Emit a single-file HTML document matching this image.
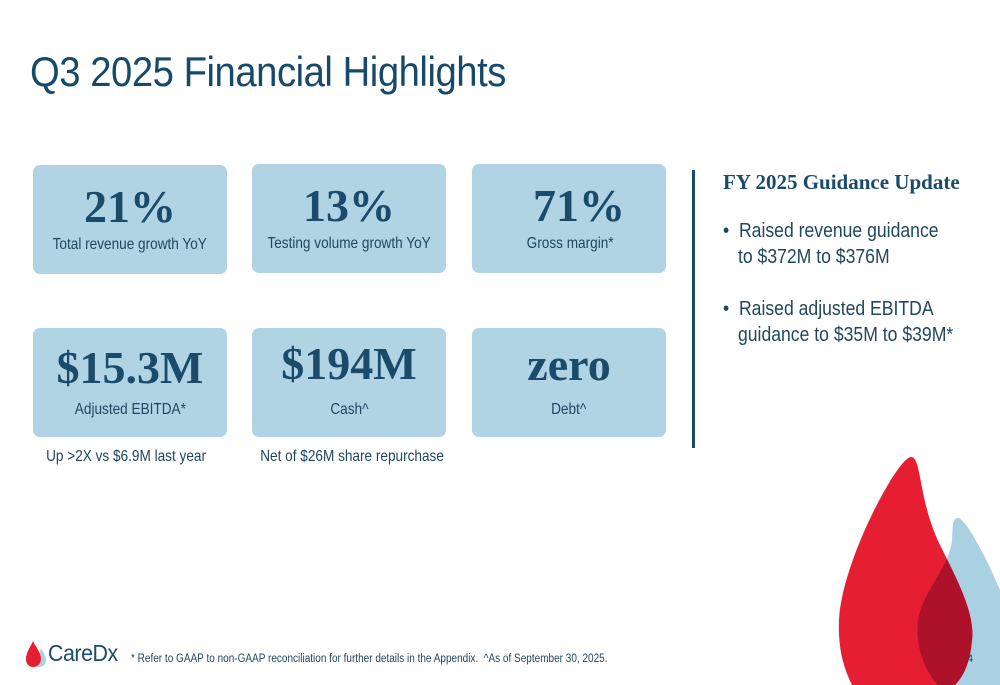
<!DOCTYPE html>
<html><head><meta charset="utf-8"><style>
body{margin:0;width:1000px;height:685px;position:relative;overflow:hidden;background:#fff;font-family:"Liberation Sans",sans-serif;color:#1a4a66}
.abs{position:absolute}
.box{position:absolute;background:#b0d4e4;border-radius:7px;width:194px;height:109px;text-align:center}
.big{font-family:"Liberation Serif",serif;font-weight:bold;font-size:46px;color:#1b4b6a;line-height:46px;margin-top:17px}
.lab{font-size:16px;color:#1f4760;margin-top:6px;white-space:nowrap}
.s{display:inline-block;transform:scaleX(.85);transform-origin:center;white-space:nowrap}
.sl{display:inline-block;transform:scaleX(.88);transform-origin:left;white-space:nowrap}
.note{font-size:16px;color:#1f4760;text-align:center;width:220px}
</style></head><body>
<div class="abs" style="left:30px;top:48px;font-size:42px;color:#17496a;letter-spacing:-0.5px;transform:scaleX(.91);transform-origin:left;white-space:nowrap">Q3 2025 Financial Highlights</div>

<div class="box" style="left:33px;top:165px"><div class="big" style="margin-top:19px">21%</div><div class="lab"><span class="s">Total revenue growth YoY</span></div></div>
<div class="box" style="left:252px;top:164px"><div class="big" style="margin-top:19px">13%</div><div class="lab"><span class="s">Testing volume growth YoY</span></div></div>
<div class="box" style="left:472px;top:164px"><div class="big" style="margin-top:19px;padding-left:20px">71%</div><div class="lab" style="padding-left:3px"><span class="s">Gross margin*</span></div></div>

<div class="box" style="left:33px;top:328px"><div class="big">$15.3M</div><div class="lab" style="margin-top:10px"><span class="s">Adjusted EBITDA*</span></div></div>
<div class="box" style="left:252px;top:328px"><div class="big" style="margin-top:13px">$194M</div><div class="lab" style="margin-top:14px"><span class="s">Cash^</span></div></div>
<div class="box" style="left:472px;top:328px"><div class="big" style="margin-top:14px">zero</div><div class="lab" style="margin-top:13px"><span class="s">Debt^</span></div></div>

<div class="abs note" style="left:16px;top:448px"><span class="s">Up &gt;2X vs $6.9M last year</span></div>
<div class="abs note" style="left:242px;top:448px"><span class="s">Net of $26M share repurchase</span></div>

<div class="abs" style="left:692px;top:170px;width:3px;height:278px;background:#1b4b6a"></div>

<div class="abs" style="left:723px;top:170px;font-family:'Liberation Serif',serif;font-weight:bold;font-size:21px;color:#1b4b6a;white-space:nowrap">FY 2025 Guidance Update</div>
<div class="abs" style="left:723px;top:218px;font-size:20px;line-height:26px;color:#1f4760"><span class="sl">•&nbsp; Raised revenue guidance<br><span style="padding-left:17px">to $372M to $376M</span></span></div>
<div class="abs" style="left:723px;top:296px;font-size:20px;line-height:26px;color:#1f4760"><span class="sl">•&nbsp; Raised adjusted EBITDA<br><span style="padding-left:17px">guidance to $35M to $39M*</span></span></div>

<svg class="abs" style="left:0;top:0" width="1000" height="685">
<defs>
<clipPath id="bc"><path d="M958,518 C966,518 990,565 1000,590 L1000,685 L938,685 C922,668 914,640 919,615 C925,590 950,565 952,540 C953,525 952,518 958,518 Z"/></clipPath>
</defs>
<path fill="#a9d1e1" d="M958,518 C966,518 990,565 1000,590 L1000,685 L938,685 C922,668 914,640 919,615 C925,590 950,565 952,540 C953,525 952,518 958,518 Z"/>
<path fill="#e61e32" d="M911,457 C922,457 918,500 940,545 C960,585 975,615 972,640 C970,665 962,678 955,685 L852,685 C842,665 838,645 839,620 C842,560 898,457 911,457 Z"/>
<path clip-path="url(#bc)" fill="#ae112a" d="M911,457 C922,457 918,500 940,545 C960,585 975,615 972,640 C970,665 962,678 955,685 L852,685 C842,665 838,645 839,620 C842,560 898,457 911,457 Z"/>
</svg>
<div class="abs" style="left:967px;top:653px;font-size:11px;color:#1f4760">4</div>

<svg class="abs" style="left:24px;top:640px" width="24" height="28">
<path fill="#a9d1e1" d="M17,8 C19,12 22,16 22,20 C22,25 18,27 15,27 L12,27 Z"/>
<path fill="#e61e32" d="M9,1 C11,6 17,12 17,19 C17,24 13,27 9,27 C5,27 2,24 2,19 C2,12 7,6 9,1 Z"/>
</svg>
<div class="abs" style="left:48px;top:640px;font-size:23px;color:#1b4b6a;letter-spacing:-0.5px;transform:scaleX(.93);transform-origin:left">CareDx</div>
<div class="abs" style="left:131px;top:653px;font-size:11.5px;color:#1f4760;transform:scaleX(.87);transform-origin:left;white-space:nowrap">* Refer to GAAP to non-GAAP reconciliation for further details in the Appendix.&nbsp; ^As of September 30, 2025.</div>
</body></html>
